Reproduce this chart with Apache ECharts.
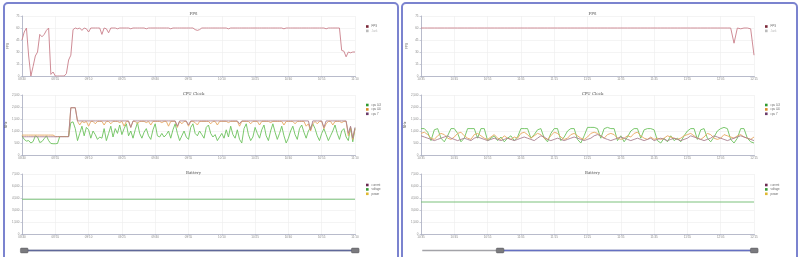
<!DOCTYPE html>
<html><head><meta charset="utf-8">
<script src="https://cdn.jsdelivr.net/npm/echarts@6/dist/echarts.min.js"></script>
<style>
html,body{margin:0;padding:0;background:#fff;overflow:hidden}
#wrap{position:relative;width:800px;height:257px}
.panel{position:absolute;top:1.5px;height:300px;border:2.5px solid #7b83cf;border-radius:5px;box-sizing:border-box}
#chart{position:absolute;left:0;top:0;width:800px;height:257px}
</style></head>
<body><div id="wrap"><div class="panel" style="left:2.5px;width:396px"></div><div class="panel" style="left:401px;width:396.5px"></div><div id="chart"></div></div>
<script>
// ---------- categories (time stamps) ----------
function makeTimes(startH, startM, n) {
  const out = [];
  for (let k = 0; k < n; k++) {
    const t = startH * 60 + startM + k;
    const h = Math.floor(t / 60) % 24, m = t % 60;
    out.push((h < 10 ? '0' : '') + h + ':' + (m < 10 ? '0' : '') + m);
  }
  return out;
}
const leftTimes = makeTimes(8, 40, 151);
const rightTimes = makeTimes(10, 5, 131);

// ---------- tick settings ----------
const fpsTicks = {min: 0, max: 75, interval: 15};
const cpuTicks = {min: 0, max: 2500, interval: 500};
const batTicks = {min: 0, max: 7500, interval: 1500};

// ---------- left panel data ----------
const leftFps = [45,55,60,25,0,12,25,30,52,49,52,57,60,2,5,0,0,0,0,0,3,20,26,58,60,59,60,57,60,59,55,60,60,60,60,60,52,60,59,54,60,
60,60,59,60,60,60,60,60,59,60,60,60,60,60,60,59,60,60,60,60,60,60,60,60,60,60,59,60,60,60,60,60,60,60,60,60,60,
58,57,58,
60,60,60,60,60,60,60,60,60,60,60,60,59,60,60,60,60,60,60,60,60,60,60,60,60,60,60,60,60,60,60,60,60,60,60,60,60,59,60,60,60,60,60,60,60,60,60,60,60,60,60,60,60,60,60,60,59,60,60,60,60,60,60,
32,31,24,30,29,30,30];
const leftJank = [];
const leftCpu03 = [800,650,580,600,500,560,800,750,520,560,680,800,600,480,470,470,480,770,770,770,770,770,
1350,1380,1100,600,900,1200,800,1150,1050,700,1000,850,650,750,700,1100,600,900,1200,750,1100,900,1250,850,1100,1300,800,1000,
700,1050,1350,900,700,950,1100,800,650,1050,1300,800,750,900,750,850,1000,700,1050,1300,900,600,800,1000,750,650,1150,1300,900,800,
1000,850,700,1150,1250,900,750,850,600,750,900,700,1050,750,1200,850,700,1050,650,500,1100,1300,850,600,750,1150,900,700,1050,1250,
800,600,1000,1300,950,650,900,1200,800,500,700,1000,1200,850,650,1100,1250,950,700,1000,1150,1300,1100,800,600,900,1100,850,600,800,
1000,1250,900,650,1000,1100,750,600,1150,550,1100];
const leftCpu46 = [830,830,830,830,830,830,830,830,830,830,830,830,830,830,830,770,770,770,770,770,770,770,
1970,1970,1970,1400,
1250,1400,1350,1400,1200,1400,1400,1300,1400,1400,1400,1250,1400,1400,1300,1400,1400,1400,1350,1400,1200,1400,1400,1150,1400,
1400,1300,1400,1400,1400,1350,1400,1250,1400,1400,1400,1400,1350,1400,1400,1200,1400,1400,1400,1150,1400,1300,1400,1400,1200,
1400,1400,1350,1250,1400,1400,1400,1400,1400,1300,1400,1400,1250,1400,1400,1400,1400,1350,1400,1400,1400,1400,1200,1400,1400,
1400,1400,1300,1400,1400,1400,1250,1400,1400,1400,1400,1350,1400,1400,1400,1400,1400,1250,1400,1400,1400,1400,1300,1400,1400,
1400,1400,1200,1300,1000,1300,1400,1300,1400,1400,1100,1300,1400,1400,1250,1400,1400,1400,1350,1400,1400,
800,1150,650,1100];
const leftCpu7 = [760,760,760,760,760,760,760,760,760,760,760,760,760,760,760,760,760,760,760,760,760,760,
1970,1970,1970,1420,
1420,1420,1420,1420,1420,1420,1420,1420,1420,1420,1420,1420,1420,1420,1420,1420,1420,1420,1420,1420,1420,1420,1420,
1150,
1420,1420,1420,1420,1420,1420,1420,1420,1420,1420,1420,1420,1420,1420,1420,1420,1420,1420,1420,1420,
1200,1420,1420,1420,1420,1250,
1420,1420,1420,1420,1420,1420,1420,1420,1420,1420,1420,1420,1420,1420,1420,1420,1420,1420,1420,1420,1420,1420,1300,1420,1420,1420,1420,
1420,1420,1420,1420,1420,1420,1420,1420,1420,1420,1420,1420,1420,1420,1420,1420,1420,1420,1420,1420,1420,1420,1420,1420,1420,1420,1420,
1050,1420,1420,1420,1420,1420,1150,1420,1420,1420,1420,1420,1420,1420,1420,1420,1420,
900,1200,700,1150];
const leftCurrent = [];
const leftVoltage = [4340,4340,4340,4340,4340,4340,4340,4340,4340,4340,4340,4340,4340,4340,4340,4340,4340,4340,4340,4340,
4340,4340,4340,4340,4340,4340,4340,4340,4340,4340,4340,4340,4340,4340,4340,4340,4340,4340,4340,4340,
4340,4340,4340,4340,4340,4340,4340,4340,4340,4340,4340,4340,4340,4340,4340,4340,4340,4340,4340,4340,
4340,4340,4340,4340,4340,4340,4340,4340,4340,4340,4340,4340,4340,4340,4340,4340,4340,4340,4340,4340,
4340,4340,4340,4340,4340,4340,4340,4340,4340,4340,4340,4340,4340,4340,4340,4340,4340,4340,4340,4340,
4340,4340,4340,4340,4340,4340,4340,4340,4340,4340,4340,4340,4340,4340,4340,4340,4340,4340,4340,4340,
4340,4340,4340,4340,4340,4340,4340,4340,4340,4340,4340,4340,4340,4340,4340,4340,4340,4340,4340,4340,
4340,4340,4340,4340,4340,4340,4340,4340,4340,4340,4340];
const leftPower = [];

// ---------- right panel data ----------
const rightFps = [60,60,60,60,60,60,60,60,60,60,60,60,60,60,60,60,60,60,60,60,60,60,60,60,60,60,60,60,60,60,
60,60,60,60,60,60,60,60,60,60,60,60,60,60,60,60,60,60,60,60,60,60,60,60,60,60,60,60,60,60,
60,60,60,60,60,60,60,60,60,60,60,60,60,60,60,60,60,60,60,60,60,60,60,60,60,60,60,60,60,60,
60,60,60,60,60,60,60,60,60,60,60,60,60,60,60,60,60,60,60,60,60,60,60,60,60,60,60,60,60,60,
60,60,60,60,41,60,59,60,60,59,26];
const rightJank = [];
const rightCpu03 = [1100,1100,700,550,800,1100,1100,650,500,750,1050,1100,700,600,900,1100,1100,1100,650,500,700,1000,1100,700,550,800,1100,1100,900,600,
1100,1100,950,600,1050,1100,700,550,800,1100,1100,900,550,700,1100,1100,1100,700,1100,1100,
600,700,800,600,750,550,700,800,600,750,1100,1100,1100,700,850,1050,1100,700,550,900,
1100,1100,600,750,1000,1100,1100,650,500,800,1150,1150,1150,1100,700,1100,1150,1100,1100,600,
800,550,750,1000,1100,1100,700,1050,1100,1100,1050,600,500,700,550,800,600,700,550,800,
1000,1100,1100,650,1050,1100,700,550,750,1000,1100,1150,1100,650,500,700,1100,1100,700,550,500];
const rightCpu46 = [800,850,900,750,700,850,950,800,700,750,900,850,700,650,800,900,850,750,700,800,850,900,750,700,850,950,850,700,650,750,
900,950,850,700,650,800,900,850,700,650,750,900,950,800,700,650,850,900,800,700,
650,750,850,700,650,800,700,650,750,700,900,950,850,700,800,900,850,700,650,800,
950,900,750,650,700,850,900,800,700,650,750,900,950,900,800,700,850,900,850,700,
650,700,800,750,900,950,800,700,650,750,650,700,650,700,800,750,700,650,700,800,
850,900,800,700,650,750,900,850,700,650,700,850,800,750,700,800,850,750,700,650,750];
const rightCpu7 = [700,650,600,700,750,800,700,650,600,650,700,750,800,700,650,600,650,700,750,700,650,600,700,800,750,650,600,650,700,750,
800,750,700,650,600,650,700,750,800,700,650,600,650,700,650,600,700,750,700,650,
600,650,700,650,600,650,700,650,600,650,700,750,700,650,600,700,800,750,650,600,
650,700,650,600,650,700,750,700,650,600,650,700,800,850,800,700,650,600,650,700,
750,700,650,600,650,700,650,600,650,700,600,650,700,650,600,650,700,650,600,650,
700,800,750,700,650,600,650,700,800,750,700,650,600,650,700,750,800,750,700,650,600];
const rightCurrent = [];
const rightVoltage = [4000,4000,4000,4000,4000,4000,4000,4000,4000,4000,4000,4000,4000,4000,4000,4000,4000,4000,4000,4000,
4000,4000,4000,4000,4000,4000,4000,4000,4000,4000,4000,4000,4000,4000,4000,4000,4000,4000,4000,4000,
4000,4000,4000,4000,4000,4000,4000,4000,4000,4000,4000,4000,4000,4000,4000,4000,4000,4000,4000,4000,
4000,4000,4000,4000,4000,4000,4000,4000,4000,4000,4000,4000,4000,4000,4000,4000,4000,4000,4000,4000,
4000,4000,4000,4000,4000,4000,4000,4000,4000,4000,4000,4000,4000,4000,4000,4000,4000,4000,4000,4000,
4000,4000,4000,4000,4000,4000,4000,4000,4000,4000,4000,4000,4000,4000,4000,4000,4000,4000,4000,4000,
4000,4000,4000,4000,4000,4000,4000,4000,4000,4000,4000];
const rightPower = [];
const rightZoomStart = 30, rightZoomEnd = 130;

// ---------- build option ----------
const rows = [
  {top: 16, h: 60, title: 'FPS', ty: 6.5, ly: 20, ticks: fpsTicks, yName: 'FPS'},
  {top: 95, h: 60, title: 'CPU Clock', ty: 86.5, ly: 98.5, ticks: cpuTicks, yName: 'MHz'},
  {top: 174, h: 60, title: 'Battery', ty: 166, ly: 178.5, ticks: batTicks, yName: ''}
];
const panels = [
  {x: 22, w: 333, lx: 361, cats: leftTimes, lab: 14,
   series: [
     [{name: 'FPS', data: leftFps, c: '#c97f8a', lc: '#7a2838'}, {name: 'Jank', data: leftJank, c: '#d0a0a0', lc: '#d0a0a0'}],
     [{name: 'cpu 0-3', data: leftCpu03, c: '#6cc25c', lc: '#2f9a2f'}, {name: 'cpu 4-6', data: leftCpu46, c: '#e8a860', lc: '#d98a2a'}, {name: 'cpu 7', data: leftCpu7, c: '#a9808f', lc: '#6a3a6a'}],
     [{name: 'current', data: leftCurrent, c: '#6a2a50', lc: '#6a2a50'}, {name: 'voltage', data: leftVoltage, c: '#7cc27c', lc: '#3a9a3a'}, {name: 'power', data: leftPower, c: '#e0b830', lc: '#e0b830'}]
   ]},
  {x: 421, w: 333, lx: 760, cats: rightTimes, lab: 9,
   series: [
     [{name: 'FPS', data: rightFps, c: '#c97f8a', lc: '#7a2838'}, {name: 'Jank', data: rightJank, c: '#d0a0a0', lc: '#d0a0a0'}],
     [{name: 'cpu 0-3', data: rightCpu03, c: '#6cc25c', lc: '#2f9a2f'}, {name: 'cpu 4-6', data: rightCpu46, c: '#e8a860', lc: '#d98a2a'}, {name: 'cpu 7', data: rightCpu7, c: '#a9808f', lc: '#6a3a6a'}],
     [{name: 'current', data: rightCurrent, c: '#6a2a50', lc: '#6a2a50'}, {name: 'voltage', data: rightVoltage, c: '#7cc27c', lc: '#3a9a3a'}, {name: 'power', data: rightPower, c: '#e0b830', lc: '#e0b830'}]
   ]}
];

const option = {animation: false, title: [], legend: [], grid: [], xAxis: [], yAxis: [], series: [], dataZoom: []};
let gi = 0;
panels.forEach((p, pi) => {
  const axisIdx = [];
  rows.forEach((r, ri) => {
    option.title.push({text: r.title, left: p.x + p.w / 2, top: r.ty, textAlign: 'center',
      textStyle: {fontSize: 4, fontWeight: 'normal', color: '#555', fontFamily: 'DejaVu Serif'}});
    const sel = {};
    p.series[ri].forEach(s => { sel[s.name] = s.name !== 'Jank'; });
    option.legend.push({orient: 'vertical', left: p.lx, top: r.ly, itemWidth: 2.6, itemHeight: 2.6, itemGap: 1.4,
      icon: 'rect', selected: sel, inactiveColor: '#bbb',
      textStyle: {fontSize: 2.8, color: '#666', padding: [0, 0, 0, -2]},
      data: p.series[ri].map(s => ({name: s.name, itemStyle: {color: s.lc}}))});
    option.grid.push({left: p.x, top: r.top, width: p.w, height: r.h, containLabel: false});
    option.xAxis.push({type: 'category', gridIndex: gi, data: p.cats, boundaryGap: false,
      axisLine: {lineStyle: {color: '#a8acc0', width: 0.8}},
      axisTick: {show: true, length: 1.5, interval: p.lab, lineStyle: {color: '#a8acc0', width: 0.6}},
      axisLabel: {fontSize: 3, color: '#8a8a8a', margin: 1.8, interval: p.lab, showMaxLabel: true},
      splitLine: {show: true, interval: p.lab, lineStyle: {color: '#ececec', width: 0.6}}});
    option.yAxis.push({type: 'value', gridIndex: gi, min: r.ticks.min, max: r.ticks.max, interval: r.ticks.interval,
      name: r.yName, nameLocation: 'middle', nameGap: 12, nameTextStyle: {fontSize: 3.2, color: '#666'},
      axisLine: {show: true, lineStyle: {color: '#a8acc0', width: 0.8}},
      axisTick: {show: true, length: 1.5, lineStyle: {color: '#a8acc0', width: 0.6}},
      axisLabel: {fontSize: 3, color: '#8a8a8a', margin: 2.5},
      splitLine: {show: true, lineStyle: {color: '#ececec', width: 0.6}}});
    p.series[ri].forEach(s => {
      option.series.push({type: 'line', name: s.name, xAxisIndex: gi, yAxisIndex: gi, data: s.data,
        showSymbol: false, symbol: 'none', itemStyle: {color: s.lc},
        lineStyle: {color: s.c, width: ri === 2 ? 1.1 : 0.9}});
    });
    axisIdx.push(gi);
    gi++;
  });
  const dz = {type: 'slider', xAxisIndex: axisIdx, left: p.x, width: p.w, top: 249.3, height: 1.6,
    showDetail: false, showDataShadow: false, brushSelect: false, moveHandleSize: 0,
    borderColor: 'transparent', backgroundColor: '#a3a3a8', fillerColor: '#6570c2',
    handleIcon: 'path://M2,0 H14 Q16,0 16,2 V8 Q16,10 14,10 H2 Q0,10 0,8 V2 Q0,0 2,0Z',
    handleSize: '480%', handleStyle: {color: '#7a7a7e', borderColor: '#5a5a5e', borderWidth: 0.5}};
  if (pi === 0) { dz.fillerColor = '#5f6899'; dz.start = 0; dz.end = 100; }
  else { dz.startValue = rightZoomStart; dz.endValue = rightZoomEnd; }
  option.dataZoom.push(dz);
});

const chart = echarts.init(document.getElementById('chart'), null, {renderer: 'canvas'});
chart.setOption(option);
</script>
</body></html>
